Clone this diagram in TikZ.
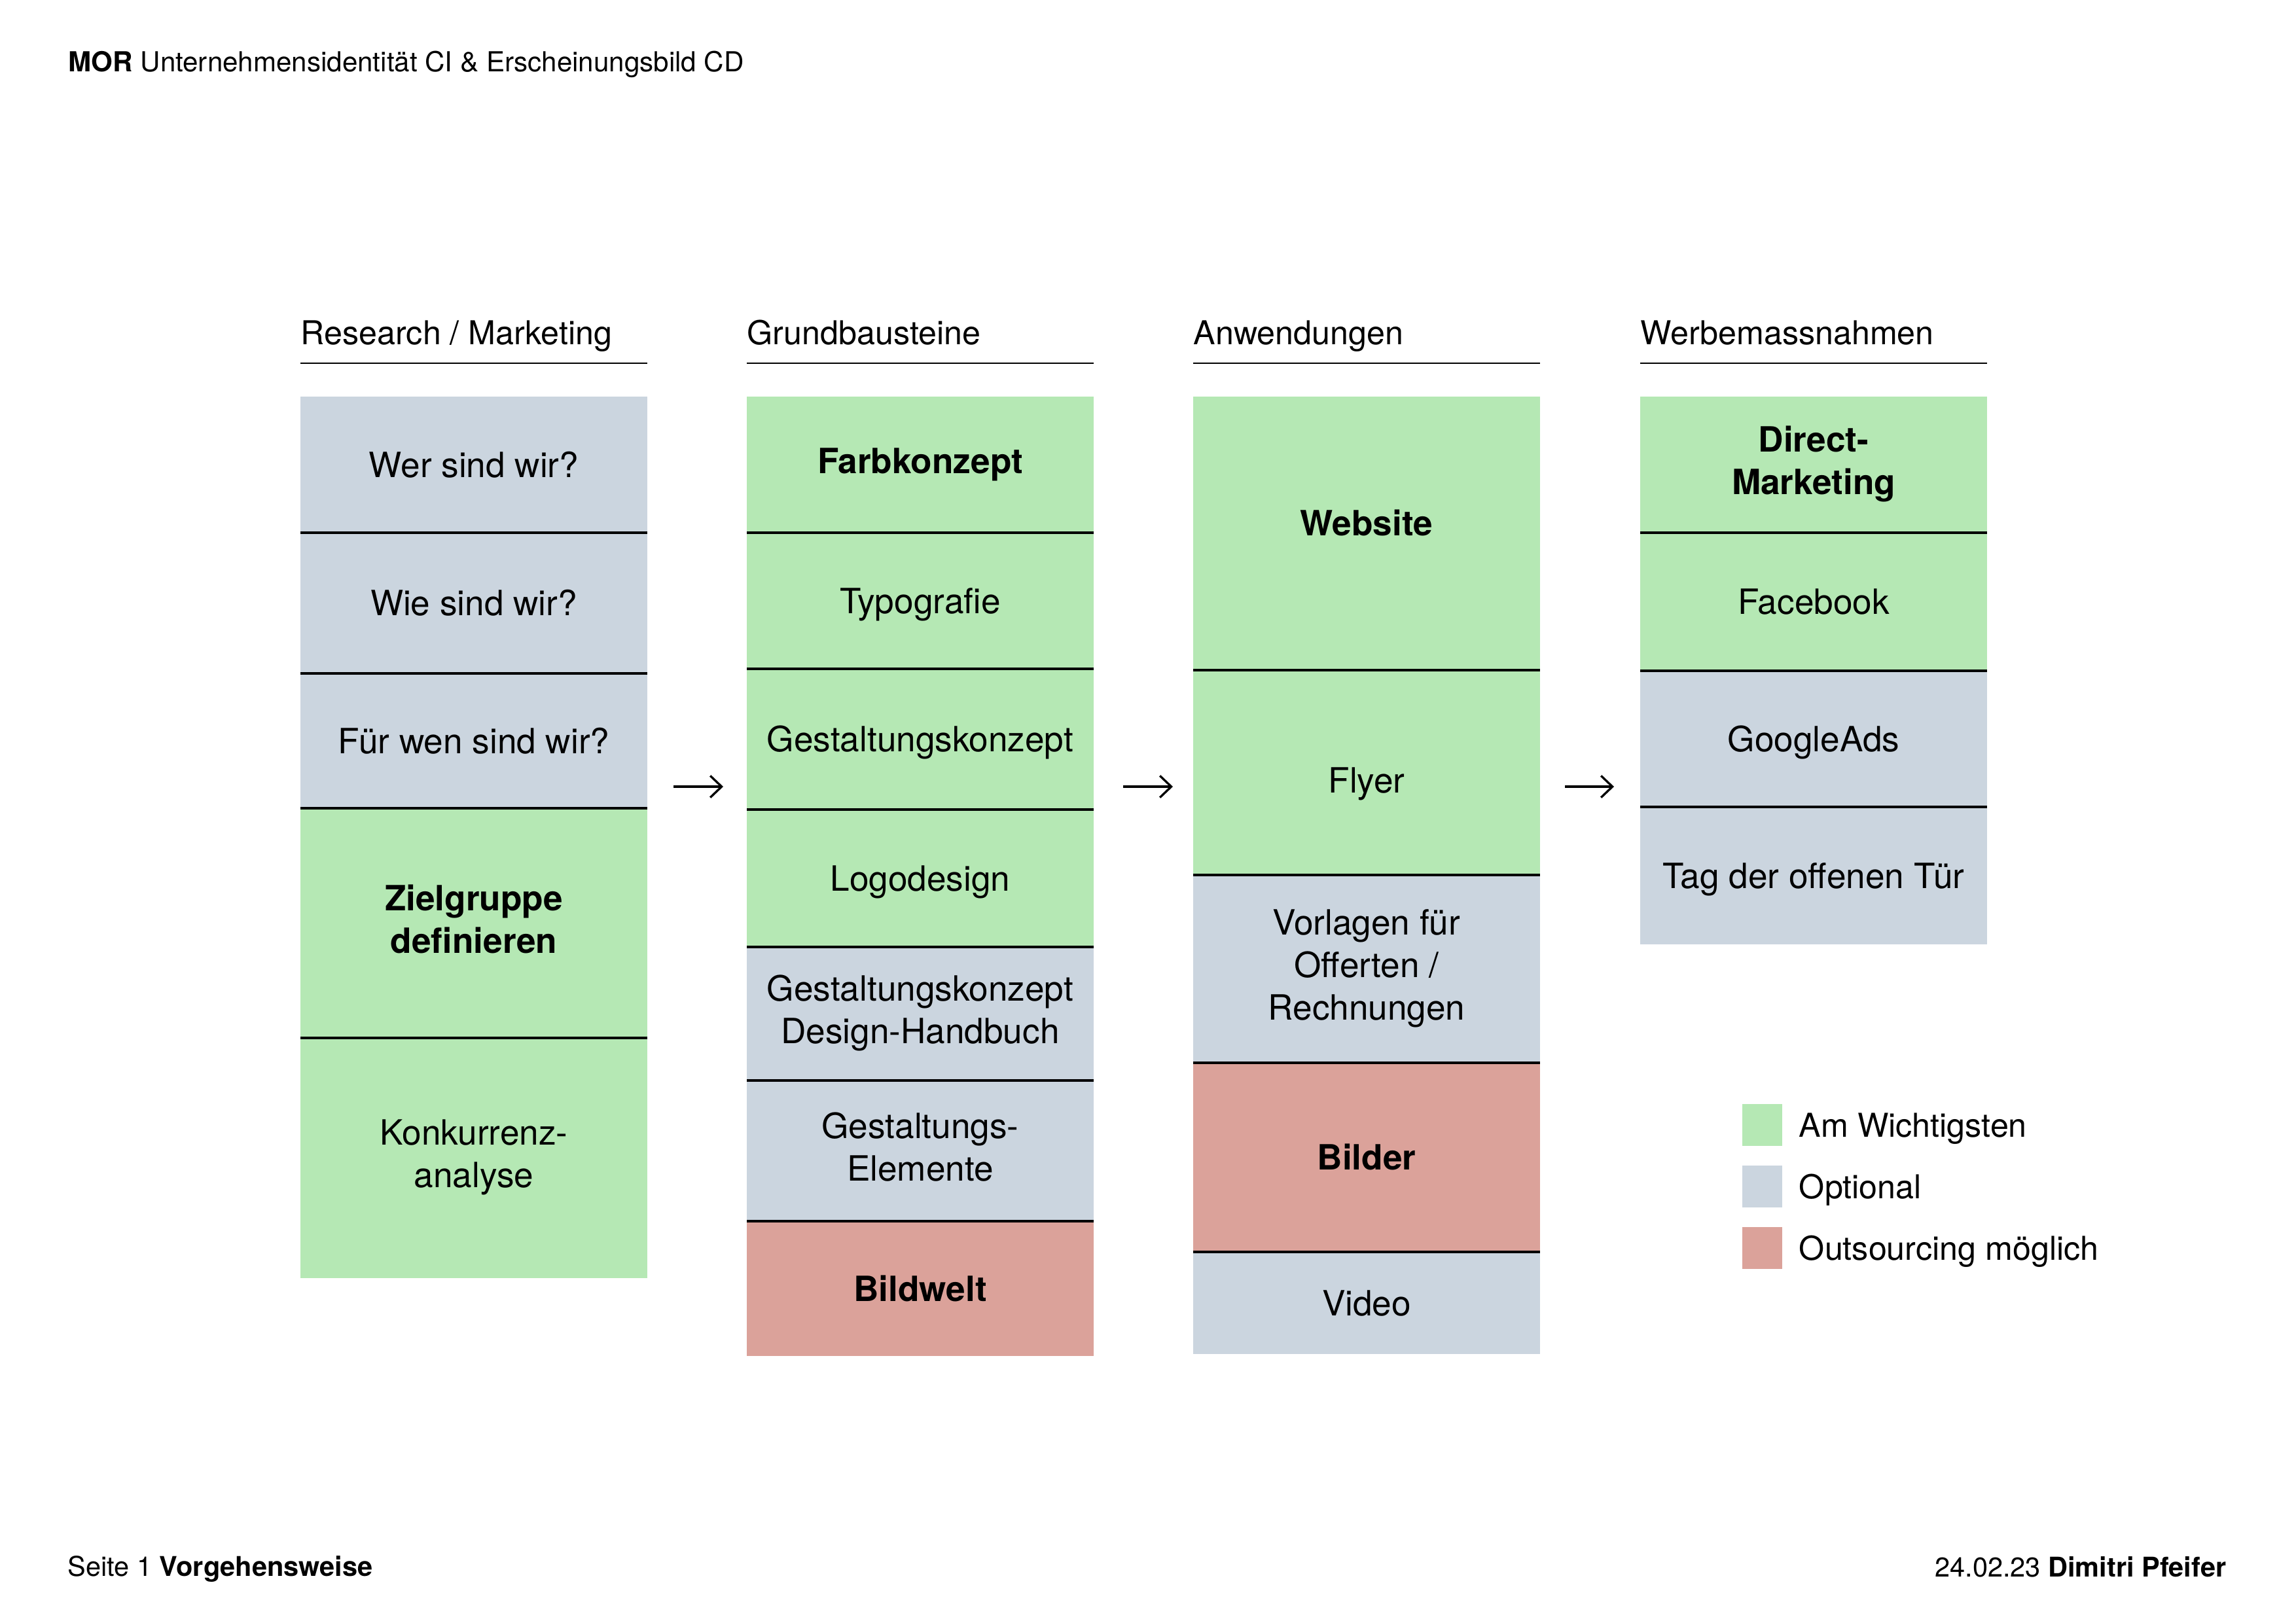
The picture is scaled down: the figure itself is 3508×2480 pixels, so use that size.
\documentclass[tikz,border=0pt]{standalone}
\usepackage{fontspec}
\setmainfont{TeX Gyre Heros}
\usepackage{xcolor}
\usepackage{tikz}
\usetikzlibrary{positioning}
\usetikzlibrary{arrows.meta}

\definecolor{wichtig}{HTML}{B5E8B4}
\definecolor{optional}{HTML}{CBD5DF}
\definecolor{extern}{HTML}{DBA29A}

\newcommand{\boxfont}{\fontsize{12.8}{15.6}\selectfont}
\newcommand{\headfont}{\fontsize{12.1}{14.6}\selectfont}
\newcommand{\pagefont}{\fontsize{10.15}{12}\selectfont}
\newcommand{\footfont}{\fontsize{10}{12}\selectfont}
\newcommand{\cellstrut}{\rule[-3.2pt]{0pt}{15.6pt}}

\tikzset{
  cell/.style={rectangle, minimum width=44.87mm, inner sep=0pt, outer sep=0pt,
    align=center, font=\boxfont, execute at begin node=\cellstrut, execute at end node=\cellstrut},
  tall/.style={minimum height=#1*0.084664mm},
  green/.style={cell, fill=wichtig},
  grey/.style={cell, fill=optional},
  red/.style={cell, fill=extern},
  strong/.style={font=\boxfont\bfseries},
  head/.style={font=\headfont, inner sep=0pt, anchor=base west},
  rule/.style={line width=0.55pt},
  sep/.style={line width=0.85pt},
  flow/.style={line width=0.8pt, -{Straight Barb[length=4.2pt,width=8pt]}},
  swatch/.style={rectangle, inner sep=0pt, minimum width=5.16mm, minimum height=5.42mm},
  legend/.style={font=\headfont, inner sep=0pt, anchor=west}
}

\begin{document}
\begin{tikzpicture}[x=0.084664mm, y=-0.084664mm]
	\useasboundingbox (0,0) rectangle (3508,2480);
	
	% page head and foot
	\node[font=\pagefont, inner sep=0pt, anchor=base west] (titel) at (104,110) {\textbf{MOR} Unternehmensidentität CI \& Erscheinungsbild CD};
	\node[font=\footfont, inner sep=0pt, anchor=base west] (seite) at (103,2408) {Seite 1 \textbf{Vorgehensweise}};
	\node[font=\footfont, inner sep=0pt, anchor=base east] (autor) at (3402,2409) {24.02.23 \textbf{Dimitri Pfeifer}};
	
	% Research / Marketing
	\node[grey, tall=208, anchor=north west] (wer) at (459,606) {Wer sind wir?};
	\node[grey, tall=215] (wie) [below = 0pt of wer] {Wie sind wir?};
	\node[grey, tall=206] (fuer) [below = 0pt of wie] {Für wen sind wir?};
	\node[green, strong, tall=351] (ziel) [below = 0pt of fuer] {Zielgruppe\\definieren};
	\node[green, tall=367] (konk) [below = 0pt of ziel] {Konkurrenz-\\analyse};
	
	% Grundbausteine
	\node[green, strong, tall=208, anchor=north west] (farb) at (1141,606) {\raisebox{0.5mm}[\height][\depth]{Farbkonzept}};
	\node[green, tall=208] (typo) [below = 0pt of farb] {Typografie};
	\node[green, tall=215] (gest) [below = 0pt of typo] {Gestaltungskonzept};
	\node[green, tall=210] (logo) [below = 0pt of gest] {Logodesign};
	\node[grey, tall=204] (hand) [below = 0pt of logo] {Gestaltungskonzept\\Design-Handbuch};
	\node[grey, tall=215] (elem) [below = 0pt of hand] {Gestaltungs-\\Elemente};
	\node[red, strong, tall=206] (bildw) [below = 0pt of elem] {Bildwelt};
	
	% Anwendungen
	\node[green, strong, tall=418, anchor=north west] (web) at (1823,606) {\raisebox{1.35mm}[\height][\depth]{Website}};
	\node[green, tall=313] (flyer) [below = 0pt of web] {\raisebox{-1mm}[\height][\depth]{Flyer}};
	\node[grey, tall=287] (vorl) [below = 0pt of flyer] {Vorlagen für\\Offerten /\\Rechnungen};
	\node[red, strong, tall=289] (bilder) [below = 0pt of vorl] {Bilder};
	\node[grey, tall=156] (video) [below = 0pt of bilder] {Video};
	
	% Werbemassnahmen
	\node[green, strong, tall=208, anchor=north west] (direct) at (2506,606) {Direct-\\Marketing};
	\node[green, tall=211] (fb) [below = 0pt of direct] {Facebook};
	\node[grey, tall=208] (gads) [below = 0pt of fb] {GoogleAds};
	\node[grey, tall=210] (tag) [below = 0pt of gads] {Tag der offenen Tür};
	
	% separating lines
	\foreach \n in {wer,wie,fuer,ziel,farb,typo,gest,logo,hand,elem,web,flyer,vorl,bilder,direct,fb,gads}
		\draw[sep] (\n.south west) -- (\n.south east);
	
	% column heads
	\node[head] (hres) at (459,527) {Research / Marketing};
	\node[head] (hgrund) at (1141,527) {Grundbausteine};
	\node[head] (hanw) at (1823,527) {Anwendungen};
	\node[head] (hwerb) at (2506,527) {Werbemassnahmen};
	\foreach \n in {wer,farb,web,direct}
		\draw[rule] ([yshift=4.32mm]\n.north west) -- ([yshift=4.32mm]\n.north east);
	
	% arrows between the columns
	\coordinate (a1) at (1029,1202);
	\coordinate (b1) at (1105,1202);
	\coordinate (a2) at (1716,1202);
	\coordinate (b2) at (1792,1202);
	\coordinate (a3) at (2391,1202);
	\coordinate (b3) at (2466,1202);
	\draw[flow] (a1) -- (b1);
	\draw[flow] (a2) -- (b2);
	\draw[flow] (a3) -- (b3);
	
	% legend
	\node[swatch, fill=wichtig] (lg1) at (2692,1719) {};
	\node[swatch, fill=optional] (lg2) at (2692,1813) {};
	\node[swatch, fill=extern] (lg3) at (2692,1907) {};
	\node[legend] (lt1) [right = 2.1mm of lg1, yshift=-0.45mm] {Am Wichtigsten};
	\node[legend] (lt2) [right = 2.1mm of lg2, yshift=-0.45mm] {Optional};
	\node[legend] (lt3) [right = 2.1mm of lg3, yshift=-0.45mm] {Outsourcing möglich};
\end{tikzpicture}
\end{document}
